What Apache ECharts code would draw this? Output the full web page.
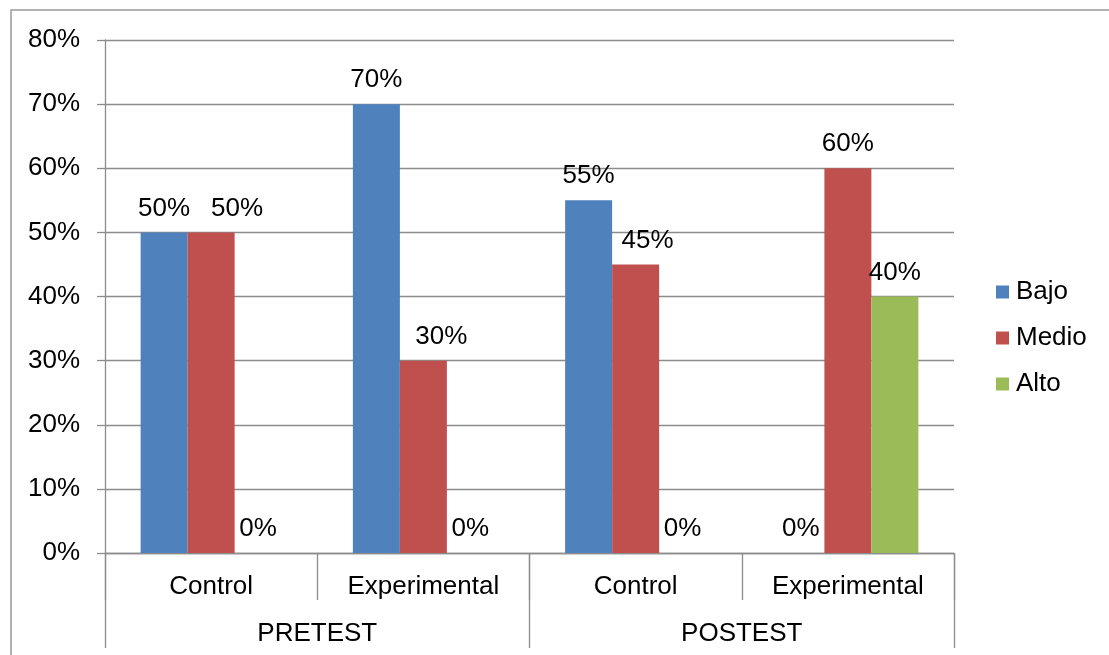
<!DOCTYPE html>
<html>
<head>
<meta charset="utf-8">
<script src="https://cdn.jsdelivr.net/npm/echarts@6/dist/echarts.min.js"></script>
<style>
  html, body { margin: 0; padding: 0; background: #fff; }
  #chart { width: 1109px; height: 655px; }
</style>
</head>
<body>
<div id="chart"></div>
<script>
// Groups (inner level) and test phase (outer level)
const groups = ['Control', 'Experimental', 'Control', 'Experimental'];
const phases = ['PRETEST', 'POSTEST'];
const seriesNames = ['Bajo', 'Medio', 'Alto'];
const bajo = [50, 70, 55, 0];
const medio = [50, 30, 45, 60];
const alto = [0, 0, 0, 40];
const yTicks = [0, 10, 20, 30, 40, 50, 60, 70, 80];

const colors = ['#4F81BD', '#C0504D', '#9BBB59'];
const font = 'Liberation Sans, Arial, sans-serif';
const axisGray = '#8c8c8c';

// Horizontal nudges for value labels so neighbouring labels do not collide
const labelShift = {
  Bajo: [0, 0, 0, 0],
  Medio: [26, 18, 12, 0],
  Alto: [0, 0, 0, 0]
};

const chart = echarts.init(document.getElementById('chart'));

function barSeries(name, data, color) {
  return {
    name: name,
    type: 'bar',
    data: data.map((v, i) => ({
      value: v,
      label: { offset: [labelShift[name][i], 0] }
    })),
    barWidth: 47,
    barGap: '0%',
    itemStyle: { color: color },
    label: {
      show: true,
      position: 'top',
      distance: 11,
      formatter: p => p.value + '%',
      fontFamily: font,
      fontSize: 26,
      color: '#000'
    }
  };
}

chart.setOption({
  animation: false,
  backgroundColor: '#fff',
  grid: { left: 105, right: 155, top: 40, bottom: 102, containLabel: false },
  legend: {
    orient: 'vertical',
    left: 996,
    top: 279,
    padding: 0,
    itemWidth: 13,
    itemHeight: 13,
    itemGap: 20,
    icon: 'rect',
    data: seriesNames,
    textStyle: { fontFamily: font, fontSize: 26, color: '#000', padding: [0, 0, 0, 2] }
  },
  xAxis: [
    {
      type: 'category',
      data: groups,
      position: 'bottom',
      axisLine: { show: true, lineStyle: { color: axisGray, width: 1.3 } },
      axisTick: { show: true, length: 47, lineStyle: { color: axisGray, width: 1.3 } },
      axisLabel: { margin: 21, fontFamily: font, fontSize: 26, color: '#000' }
    },
    {
      type: 'category',
      data: phases,
      position: 'bottom',
      axisLine: { show: false },
      axisTick: { show: true, length: 95, lineStyle: { color: axisGray, width: 1.3 } },
      axisLabel: { margin: 68, fontFamily: font, fontSize: 26, color: '#000' }
    }
  ],
  yAxis: {
    type: 'value',
    min: yTicks[0],
    max: yTicks[yTicks.length - 1],
    interval: 10,
    axisLine: { show: true, lineStyle: { color: axisGray, width: 1.3 } },
    axisTick: { show: true, inside: false, length: 8, lineStyle: { color: axisGray, width: 1.3 } },
    axisLabel: {
      margin: 25,
      formatter: v => v + '%',
      fontFamily: font,
      fontSize: 26,
      color: '#000'
    },
    splitLine: { show: true, lineStyle: { color: axisGray, width: 1.3 } }
  },
  series: [
    barSeries(seriesNames[0], bajo, colors[0]),
    barSeries(seriesNames[1], medio, colors[1]),
    barSeries(seriesNames[2], alto, colors[2])
  ],
  graphic: [
    {
      type: 'rect',
      shape: { x: 11, y: 10, width: 1120, height: 700 },
      style: { fill: 'none', stroke: '#999', lineWidth: 1.5 },
      silent: true,
      z: -1
    }
  ]
});
</script>
</body>
</html>
